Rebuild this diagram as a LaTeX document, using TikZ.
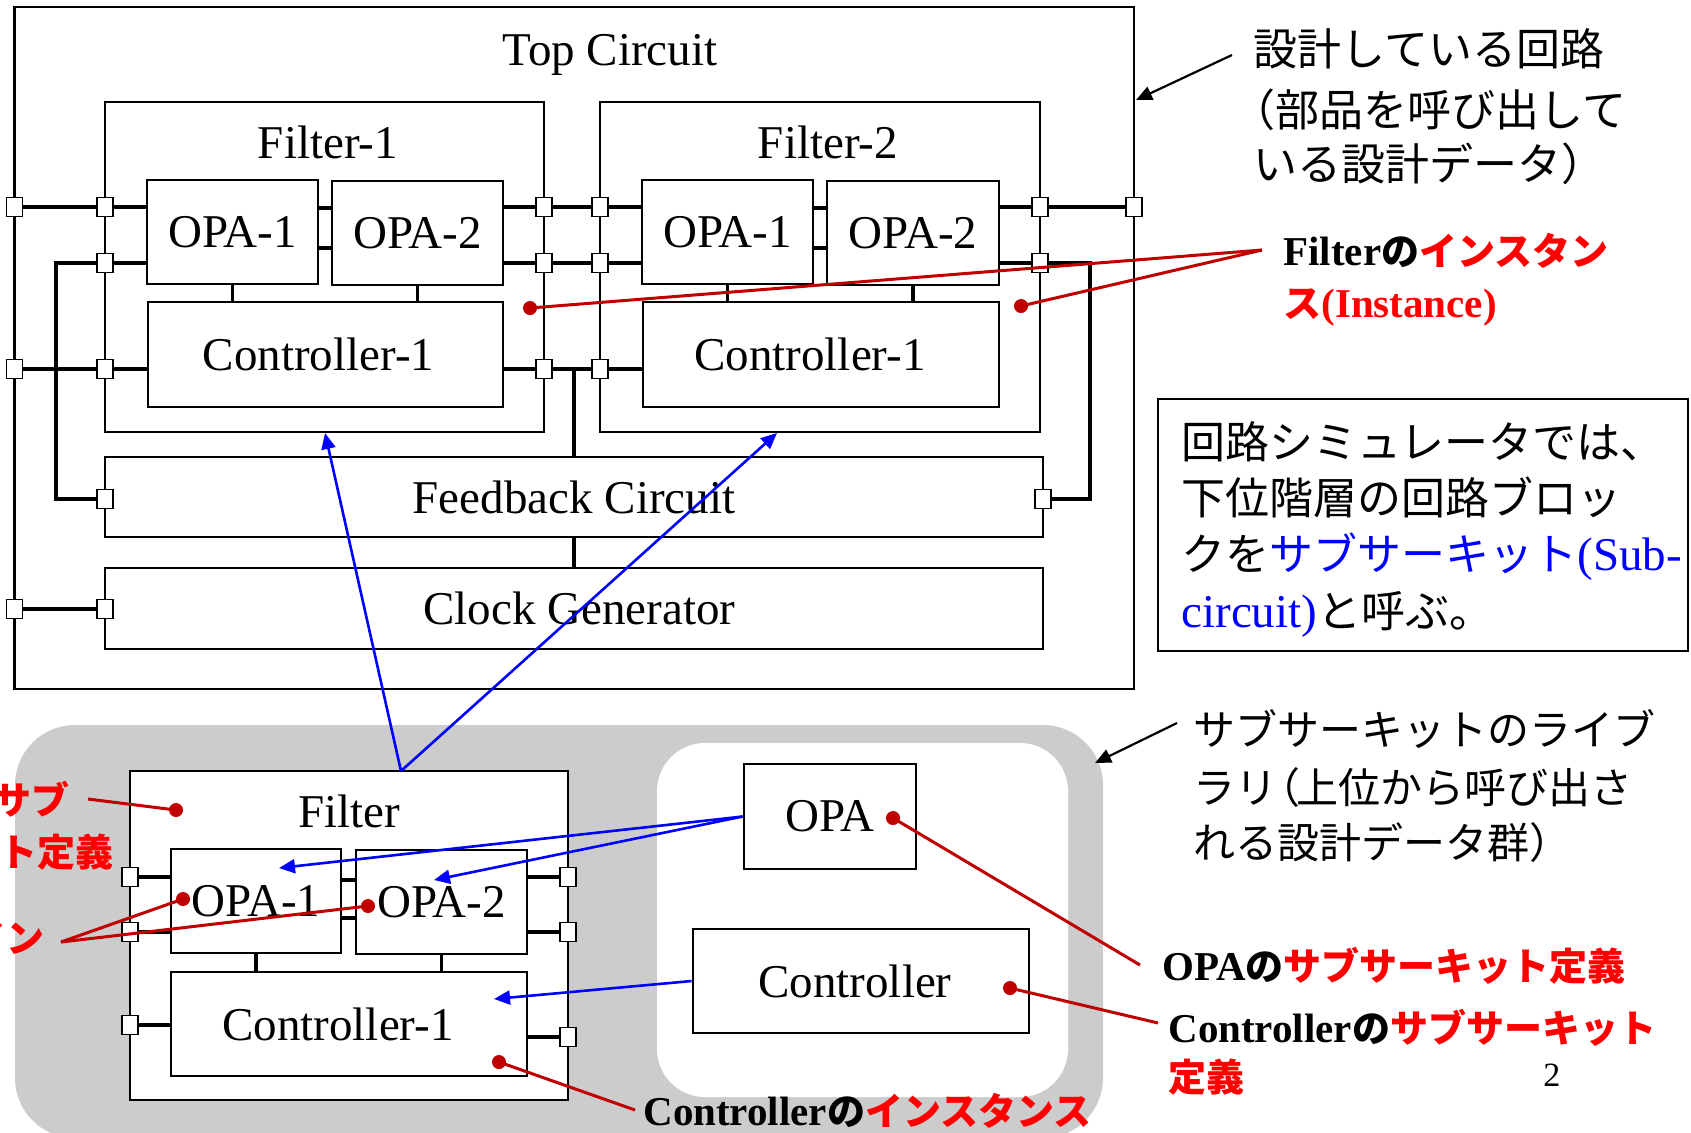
\documentclass[tikz,border=0pt]{standalone}
\usepackage{fontspec}
\setmainfont{Liberation Serif}
\newfontfamily\jp{Noto Sans CJK JP}
\usetikzlibrary{arrows.meta}
\definecolor{dred}{HTML}{C00000}
\definecolor{gry}{HTML}{CCCCCC}
\newcommand\cjb[1]{{\jp\bfseries\fontsize{19}{22}\selectfont #1}}
\newcommand\lat[1]{{\rmfamily\fontsize{23.5}{28}\selectfont #1}}
\begin{document}
\begin{tikzpicture}[x=0.5pt,y=-0.5pt,
  box/.style={draw, line width=1.4pt, fill=white, inner sep=0, font=\fontsize{23.5}{28}\selectfont},
  lbl/.style={inner sep=0, anchor=base, font=\fontsize{23.5}{28}\selectfont},
  wire/.style={line width=1.6pt},
  port/.style={draw, fill=white, line width=0.8pt, minimum width=8pt, minimum height=9.5pt, inner sep=0},
  rl/.style={draw=dred, line width=1.5pt},
  rdot/.style={circle, fill=dred, inner sep=0, minimum size=7pt},
  bl/.style={draw=blue, line width=1.3pt, -{Triangle[length=8pt,width=7pt]}},
  ka/.style={draw=black, line width=1.1pt, -{Triangle[length=8pt,width=7pt]}},
  jt/.style={inner sep=0, anchor=base west, font=\jp\fontsize{22}{26}\selectfont},
  jl/.style={inner sep=0, anchor=base west, font=\jp\fontsize{21}{25}\selectfont},
  ct/.style={inner sep=0, anchor=base west, font=\fontsize{20.5}{24}\selectfont\bfseries},
]
\useasboundingbox (0,0) rectangle (1691,1132);

% ---------------- top circuit ----------------
\node[box, minimum width=559.75pt, minimum height=341pt] (top) at (574.25,348) {};
\node[lbl] (ttop) at (610,65) {Top Circuit};

\node[box, minimum width=219.5pt, minimum height=165pt] (f1) at (324.5,267) {};
\node[lbl] (tf1) at (328,158) {Filter-1};
\node[box, minimum width=85.5pt, minimum height=52pt] (f1o1) at (232.5,232) {OPA-1};
\node[box, minimum width=85.5pt, minimum height=52pt] (f1o2) at (417.5,233) {OPA-2};
\node[box, minimum width=177.5pt, minimum height=52.5pt] (f1c) at (325.5,354.5) {Controller-1\hspace*{7pt}};

\node[box, minimum width=220pt, minimum height=165pt] (f2) at (820,267) {};
\node[lbl] (tf2) at (828,158) {Filter-2};
\node[box, minimum width=85.5pt, minimum height=52pt] (f2o1) at (727.5,232) {OPA-1};
\node[box, minimum width=86pt, minimum height=52pt] (f2o2) at (913,233) {OPA-2};
\node[box, minimum width=178pt, minimum height=52.5pt] (f2c) at (821,354.5) {Controller-1\hspace*{11pt}};

\node[box, minimum width=469pt, minimum height=40pt] (fb) at (574,497) {Feedback Circuit};
\node[box, minimum width=469pt, minimum height=40.5pt] (clk) at (574,608.5) {\hspace*{5.5pt}Clock Generator};

% ports
\node[port] (pO1) at (14.5,207) {};
\node[port] (pO2) at (14.5,369) {};
\node[port] (pO3) at (14.5,609) {};
\node[port] (pO4) at (1134,207) {};
\node[port] (f1L1) at (105,207) {};
\node[port] (f1L2) at (105,263) {};
\node[port] (f1L3) at (105,369) {};
\node[port] (f1R1) at (544,207) {};
\node[port] (f1R2) at (544,263) {};
\node[port] (f1R3) at (544,369) {};
\node[port] (f2L1) at (600,207) {};
\node[port] (f2L2) at (600,263) {};
\node[port] (f2L3) at (600,369) {};
\node[port] (f2R1) at (1040,207) {};
\node[port] (f2R2) at (1040,263) {};
\node[port] (fbL) at (105,499) {};
\node[port] (fbR) at (1043,499) {};
\node[port] (clkL) at (105,609) {};

\coordinate (w1) at (56,263);
\coordinate (w2) at (56,499);
\coordinate (w3) at (1090,263);
\coordinate (w4) at (1090,499);

% wires
\draw[wire] (pO1) -- (f1L1) -- (f1o1.west |- f1L1);
\draw[wire] (f1o2.east |- f1R1) -- (f1R1) -- (f2L1) -- (f2o1.west |- f2L1);
\draw[wire] (f2o2.east |- f2R1) -- (f2R1) -- (pO4);
\draw[wire] (f1o1.west |- f1L2) -- (f1L2) -- (w1) -- (w2) -- (fbL);
\draw[wire] (f1o2.east |- f1R2) -- (f1R2) -- (f2L2) -- (f2o1.west |- f2L2);
\draw[wire] (f2o2.east |- f2R2) -- (f2R2) -- (w3) -- (w4) -- (fbR);
\draw[wire] (pO2) -- (f1L3) -- (f1c.west |- f1L3);
\draw[wire] (f1c.east |- f1R3) -- (f1R3) -- (f2L3) -- (f2c.west |- f2L3);
\draw[wire] (fb.north |- f1R3) -- (fb.north);
\draw[wire] (fb.south) -- (clk.north);
\draw[wire] (pO3) -- (clkL);
\draw[wire] ([yshift=12pt]f1o1.east) -- ([yshift=12pt]f1o1.east -| f1o2.west);
\draw[wire] ([yshift=-8pt]f1o1.east) -- ([yshift=-8pt]f1o1.east -| f1o2.west);
\draw[wire] ([yshift=12pt]f2o1.east) -- ([yshift=12pt]f2o1.east -| f2o2.west);
\draw[wire] ([yshift=-8pt]f2o1.east) -- ([yshift=-8pt]f2o1.east -| f2o2.west);
\draw[wire] (f1o1.south) -- (f1o1.south |- f1c.north);
\draw[wire] (f1o2.south) -- (f1o2.south |- f1c.north);
\draw[wire] (f2o1.south) -- (f2o1.south |- f2c.north);
\draw[wire] (f2o2.south) -- (f2o2.south |- f2c.north);

% ---------------- library ----------------
\fill[gry, rounded corners=30pt] (15,725) rectangle (1103,1138);
\fill[white, rounded corners=24pt] (657,743) rectangle (1068,1097);

\node[box, minimum width=219pt, minimum height=164.5pt] (fl) at (349,935.5) {};
\node[lbl] (tfl) at (349,827) {Filter};
\node[box, minimum width=85pt, minimum height=52pt] (flo1) at (256,901) {OPA-1};
\node[box, minimum width=85.5pt, minimum height=52pt] (flo2) at (441.5,902) {OPA-2};
\node[box, minimum width=178pt, minimum height=52pt] (flc) at (349,1024) {Controller-1\hspace*{11pt}};

\node[port] (flL1) at (130,877) {};
\node[port] (flL2) at (130,932) {};
\node[port] (flL3) at (130,1025) {};
\node[port] (flR1) at (568,877) {};
\node[port] (flR2) at (568,932) {};
\node[port] (flR3) at (568,1037) {};

\draw[wire] (flL1) -- (flo1.west |- flL1);
\draw[wire] (flL2) -- (flo1.west |- flL2);
\draw[wire] (flL3) -- (flc.west |- flL3);
\draw[wire] (flo2.east |- flR1) -- (flR1);
\draw[wire] (flo2.east |- flR2) -- (flR2);
\draw[wire] (flc.east |- flR3) -- (flR3);
\draw[wire] ([yshift=10.5pt]flo1.east) -- ([yshift=10.5pt]flo1.east -| flo2.west);
\draw[wire] ([yshift=-8.5pt]flo1.east) -- ([yshift=-8.5pt]flo1.east -| flo2.west);
\draw[wire] (flo1.south) -- (flo1.south |- flc.north);
\draw[wire] (flo2.south) -- (flo2.south |- flc.north);

\node[box, minimum width=86pt, minimum height=52.5pt] (opa) at (830,816.5) {OPA};
\node[box, minimum width=168pt, minimum height=52pt] (ctl) at (861,981) {Controller\hspace*{6pt}};

% ---------------- note box ----------------
\node[draw, line width=0.8pt, minimum width=265pt, minimum height=126pt, inner sep=0] (note) at (1423,525) {};
\node[jt] (m1) at (1181,458) {回路シミュレータでは、};
\node[jt] (m2) at (1181,514) {下位階層の回路ブロッ};
\node[jt] (m3) at (1181,570) {クを\textcolor{blue}{サブサーキット\lat{(Sub-}}};
\node[jt] (m4) at (1181,627) {\textcolor{blue}{\lat{circuit)}}と呼ぶ。};

% ---------------- texts ----------------
\node[jt] (n1a) at (1253,65) {設計している回路};
\node[jt] (n1b) at (1231,126) {（部品を呼び出して};
\node[jt] (n1c) at (1253,180) {いる設計データ）};

\node[jl] (l1) at (1193,745) {サブサーキットのライブ};
\node[jl] (l2) at (1193,803) {ラリ\kern-0.45em（\kern-0.1em 上位から呼び出さ};
\node[jl] (l3) at (1193,858) {れる設計データ群）};

\node[ct] (c1a) at (1283,265) {Filter\cjb{の}\textcolor{red}{\cjb{インスタン}}};
\node[ct] (c1b) at (1283,317) {\textcolor{red}{\cjb{ス}(Instance)}};
\node[ct] (c2) at (1162,980) {OPA\cjb{の}\textcolor{red}{\cjb{サブサーキット定義}}};
\node[ct] (c3a) at (1168,1042) {Controller\cjb{の}\textcolor{red}{\cjb{サブサーキット}}};
\node[ct] (c3b) at (1168,1091) {\textcolor{red}{\cjb{定義}}};
\node[ct] (c4) at (643,1125) {Controller\cjb{の}\textcolor{red}{\cjb{インスタンス}}};
\node[ct, anchor=base east] (c5) at (70,814) {\textcolor{red}{\cjb{サブ}}};
\node[ct, anchor=base east] (c6) at (114,866) {\textcolor{red}{\cjb{ト定義}}};
\node[ct, anchor=base east] (c7) at (45,952) {\textcolor{red}{\cjb{イン}}};
\node[inner sep=0, anchor=base west, font=\fontsize{17}{20}\selectfont] (pg) at (1543,1086) {2};

% ---------------- blue arrows ----------------
\coordinate (flt) at (401,771);
\coordinate (t1) at (325,433);
\coordinate (t2) at (777,433);
\coordinate (t3) at (279,868);
\coordinate (t4) at (434,880);
\coordinate (t5) at (494,999);
\draw[bl] (flt) -- (t1);
\draw[bl] (flt) -- (t2);
\draw[bl] (opa.west) -- (t3);
\draw[bl] (opa.west) -- (t4);
\draw[bl] (ctl.west) -- (t5);

% ---------------- black arrows ----------------
\coordinate (k1s) at (1232,55);
\coordinate (k1e) at (1136,100);
\coordinate (k2s) at (1177,723);
\coordinate (k2e) at (1095,763);
\draw[ka] (k1s) -- (k1e);
\draw[ka] (k2s) -- (k2e);

% ---------------- red callouts ----------------
\node[rdot] (d1) at (530,308) {};
\node[rdot] (d2) at (1021,306) {};
\node[rdot] (d3) at (176,810) {};
\node[rdot] (d4) at (183,899) {};
\node[rdot] (d5) at (368,906) {};
\node[rdot] (d6) at (893,818) {};
\node[rdot] (d7) at (1010,988) {};
\node[rdot] (d8) at (499,1062) {};
\coordinate (r1) at (1262,250);
\coordinate (r3) at (88,799);
\coordinate (r4) at (61,942);
\coordinate (r6) at (1140,965);
\coordinate (r7) at (1158,1023);
\coordinate (r8) at (635,1110);
\draw[rl] (r1) -- (d1.center);
\draw[rl] (r1) -- (d2.center);
\draw[rl] (r3) -- (d3.center);
\draw[rl] (r4) -- (d4.center);
\draw[rl] (r4) -- (d5.center);
\draw[rl] (d6.center) -- (r6);
\draw[rl] (d7.center) -- (r7);
\draw[rl] (d8.center) -- (r8);
\end{tikzpicture}
\end{document}
